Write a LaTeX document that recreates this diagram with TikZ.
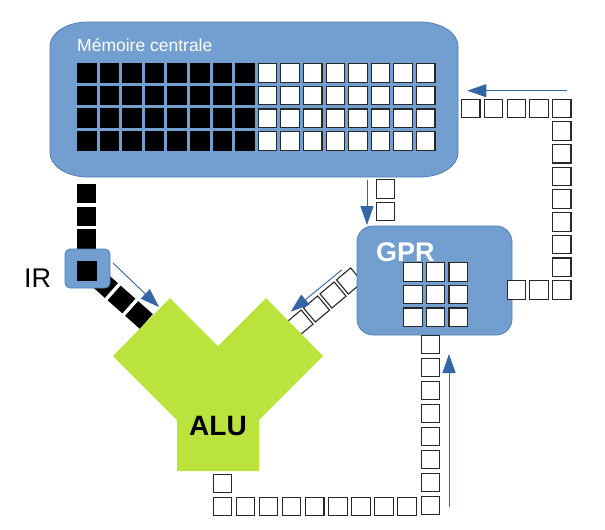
\documentclass[tikz,border=0pt]{standalone}
\usepackage{fontspec}
\setmainfont{Liberation Sans}
\usetikzlibrary{arrows.meta}
\definecolor{boxblue}{RGB}{114,159,207}
\definecolor{boxedge}{RGB}{80,125,180}
\definecolor{arrowblue}{RGB}{52,101,164}
\definecolor{alugreen}{RGB}{187,227,61}
\definecolor{celledge}{RGB}{40,40,40}
\begin{document}
\begin{tikzpicture}[x=1pt,y=-1pt,
  cell/.style={draw=celledge, fill=white, line width=1.1pt, minimum size=18.5pt, inner sep=0pt, outer sep=0pt},
  bcell/.style={cell, fill=black, draw=black},
  bluebox/.style={draw=boxedge, fill=boxblue, line width=0.8pt, inner sep=0pt},
  flow/.style={draw=arrowblue, line width=0.9pt, -{Triangle[length=19pt,width=13pt]}},
]
\useasboundingbox (0,0) rectangle (605,530);

% diagonal chains (behind boxes)
\foreach \k/\cx/\cy in {0/104/284, 1/121.5/299.5, 2/139/315, 3/156.5/330.5}
  \node[bcell, rotate=-41.5] (dd\k) at (\cx,\cy) {};
\foreach \k/\cx/\cy in {0/283.5/337, 1/300/323, 2/316.5/309, 3/333/295, 4/349.5/281}
  \node[cell, rotate=40] (dw\k) at (\cx,\cy) {};

% vertical black chain memory -> IR
\foreach \k/\cy in {0/193.5, 1/216.3, 2/239}
  \node[bcell] (vb\k) at (86.4,\cy) {};

% memory (elliptical corners)
\node[minimum width=408pt, minimum height=155pt, inner sep=0pt] (mem) at (254,99.5) {};
\path[bluebox] (88,22) -- (420,22) .. controls (441,22) and (458,33) .. (458,46)
  -- (458,153) .. controls (458,166) and (441,177) .. (420,177)
  -- (88,177) .. controls (67,177) and (50,166) .. (50,153)
  -- (50,46) .. controls (50,33) and (67,22) .. (88,22) -- cycle;
\node[anchor=base west, text=white, font=\fontsize{17.5}{20}\selectfont, inner sep=0pt] (memlbl) at (77,51) {Mémoire centrale};
\foreach \i in {0,...,15}
  \foreach \j in {0,...,3} {
    \ifnum\i<8
      \node[bcell] (m-\i-\j) at ({86.75+22.6*\i},{73+22.6*\j}) {};
    \else
      \node[cell] (m-\i-\j) at ({86.75+22.6*\i},{73+22.6*\j}) {};
    \fi
  }

% GPR
\node[bluebox, rounded corners=16pt, minimum width=155pt, minimum height=109pt] (gpr) at (434.5,280.5) {};
\node[anchor=base west, text=white, font=\fontsize{27}{30}\selectfont\bfseries, inner sep=0pt] (gprlbl) at (376,261) {GPR};
\foreach \i in {0,1,2}
  \foreach \j in {0,1,2}
    \node[cell] (g-\i-\j) at ({412.8+22.7*\i},{271.8+22.7*\j}) {};

% IR
\node[bluebox, rounded corners=5pt, minimum width=45pt, minimum height=39pt] (ir) at (87.5,268.5) {};
\node[bcell] (ircell) at (86.7,271) {};
\node[anchor=base west, font=\fontsize{27}{30}\selectfont, inner sep=0pt] (irlbl) at (24,287) {IR};

% ALU
\fill[alugreen] (113,356) -- (170,298) -- (218,346) -- (266,298) -- (323,356)
  -- (259,420) -- (259,471) -- (177,471) -- (177,420) -- cycle;
\node[anchor=base, font=\fontsize{28}{30}\selectfont\bfseries, inner sep=0pt] (alulbl) at (218,435) {ALU};

% memory -> GPR small cells
\node[cell] (mg0) at (385.3,189) {};
\node[cell] (mg1) at (385.3,211.5) {};

% GPR -> memory chain (right)
\foreach \k/\cx in {0/516.3, 1/539}
  \node[cell] (rb\k) at (\cx,290) {};
\foreach \k in {0,...,8}
  \node[cell] (rc\k) at (561.7,{108.3+22.7*\k}) {};
\foreach \k/\cx in {0/470.7, 1/493.3, 2/516.3, 3/539}
  \node[cell] (rt\k) at (\cx,108.3) {};

% ALU -> GPR chain (bottom)
\foreach \k in {0,...,7}
  \node[cell] (bc\k) at (430.5,{344.5+23*\k}) {};
\foreach \k in {0,...,8}
  \node[cell] (br\k) at ({222.5+23.06*\k},506.5) {};
\node[cell] (bu) at (222.5,483.3) {};

% arrows
\coordinate (a1s) at (566.7,90.7);  \coordinate (a1e) at (467.3,90.7);
\coordinate (a2s) at (367,180);     \coordinate (a2e) at (367,225);
\coordinate (a3s) at (449,506.7);   \coordinate (a3e) at (449,354);
\coordinate (a4s) at (113,263);     \coordinate (a4e) at (159,307);
\coordinate (a5s) at (341.7,270);   \coordinate (a5e) at (290.7,311.7);
\draw[flow] (a1s) -- (a1e);
\draw[flow] (a2s) -- (a2e);
\draw[flow] (a3s) -- (a3e);
\draw[flow] (a4s) -- (a4e);
\draw[flow] (a5s) -- (a5e);
\end{tikzpicture}
\end{document}
